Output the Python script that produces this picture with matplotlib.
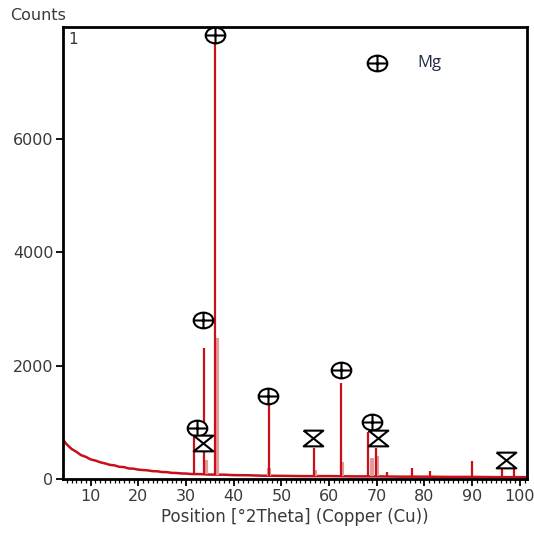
import matplotlib
matplotlib.use("Agg")
import matplotlib.pyplot as plt
from matplotlib.path import Path
import numpy as np

# ---------------- data ----------------
bg_pos = [4.2, 5, 6, 7, 8, 9, 10, 11, 12, 13, 14, 15, 16, 17, 18, 19, 20, 21, 22, 23, 24,
          25, 26, 27, 28, 29, 30, 31, 33, 35, 38, 40, 43, 46, 50, 55, 60, 65, 70, 75,
          80, 85, 90, 95, 100, 101.5]
bg_counts = [690, 610, 530, 480, 420, 390, 345, 325, 295, 275, 250, 240, 215, 210, 185, 182,
             165, 158, 152, 138, 136, 122, 121, 108, 106, 98, 96, 88, 86, 78, 76, 68, 66, 58,
             56, 50, 51, 46, 46, 41, 41, 37, 37, 33, 33, 32]

# main (dark red) reflections
peak_pos = [31.7, 33.8, 36.1, 47.3, 56.8, 62.6, 68.2, 69.8, 72.1, 77.3, 81.2, 90.0, 96.3, 98.8]
peak_counts = [740, 2310, 7700, 1310, 550, 1700, 834, 546, 130, 194, 146, 317, 206, 194]

# secondary (light) profile components
sec_pos = [34.1, 36.5, 47.5, 57.0, 62.8, 68.9, 70.1]
sec_counts = [330, 2480, 200, 160, 300, 370, 400]

# phase markers
mg_pos = [36.1, 33.6, 32.2, 47.1, 62.6, 68.9]
mg_counts = [7824, 2800, 905, 1463, 1920, 1010]
other_pos = [33.5, 56.6, 70.3, 97.0]
other_counts = [630, 728, 716, 335]

legend_label = "Mg"
x_ticks = [10, 20, 30, 40, 50, 60, 70, 80, 90, 100]
y_ticks = [0, 2000, 4000, 6000]

# ---------------- figure ----------------
fig = plt.figure(figsize=(5.34, 5.38), dpi=100)
ax = fig.add_axes([63/534, 59/538, 464/534, 452/538])

red = "#c8101a"
pink = "#e49a9a"

bg_interp = lambda x: np.interp(x, bg_pos, bg_counts)

ax.plot(bg_pos, bg_counts, color=red, lw=1.8, solid_joinstyle="round")
ax.vlines(sec_pos, bg_interp(sec_pos), sec_counts, color=pink, lw=3.0)
ax.vlines(peak_pos, bg_interp(peak_pos), peak_counts, color=red, lw=1.6)

# markers
circ = Path.unit_circle()
cv = circ.vertices * np.array([1.0, 0.8])
mg_marker = Path(np.concatenate([cv, [[-1, 0], [1, 0], [0, -0.8], [0, 0.8]]]),
                 np.concatenate([circ.codes, [Path.MOVETO, Path.LINETO, Path.MOVETO, Path.LINETO]]))
hour = Path([(-1, 0.8), (1, 0.8), (-1, -0.8), (1, -0.8), (-1, 0.8)],
            [Path.MOVETO, Path.LINETO, Path.LINETO, Path.LINETO, Path.LINETO])

ax.scatter(mg_pos, mg_counts, marker=mg_marker, s=200, facecolors="white",
           edgecolors="black", linewidths=1.5, zorder=5)
ax.scatter(other_pos, other_counts, marker=hour, s=200, facecolors="white",
           edgecolors="black", linewidths=1.5, zorder=5)

# legend
ax.scatter([0.677], [0.92], marker=mg_marker, s=200, facecolors="white",
           edgecolors="black", linewidths=1.5, transform=ax.transAxes, zorder=5)
ax.text(0.763, 0.92, legend_label, transform=ax.transAxes, fontsize=12,
        family="Open Sans", color="#1f2a44", va="center", ha="left")

ax.text(0.012, 0.99, "1", transform=ax.transAxes, fontsize=11, color="#333333",
        va="top", ha="left")

ax.set_xlim(4.2, 101.5)
ax.set_ylim(0, 7970)
ax.set_xticks(x_ticks)
ax.set_xticks(np.arange(5, 102, 1), minor=True)
ax.set_yticks(y_ticks)

for s in ax.spines.values():
    s.set_linewidth(2.0)
    s.set_color("black")

ax.tick_params(axis="both", which="major", direction="out", length=5, width=1.3,
               labelsize=11.5, labelcolor="#3a3a3a", pad=2)
ax.tick_params(axis="x", which="minor", direction="out", length=3, width=0.9)

ax.set_xlabel("Position [°2Theta] (Copper (Cu))", fontsize=12, color="#3a3a3a", labelpad=3)
fig.text(10/534, 1 - 16/538, "Counts", fontsize=11.5, color="#3a3a3a", va="center", ha="left")

fig.savefig("out.png", dpi=100)
